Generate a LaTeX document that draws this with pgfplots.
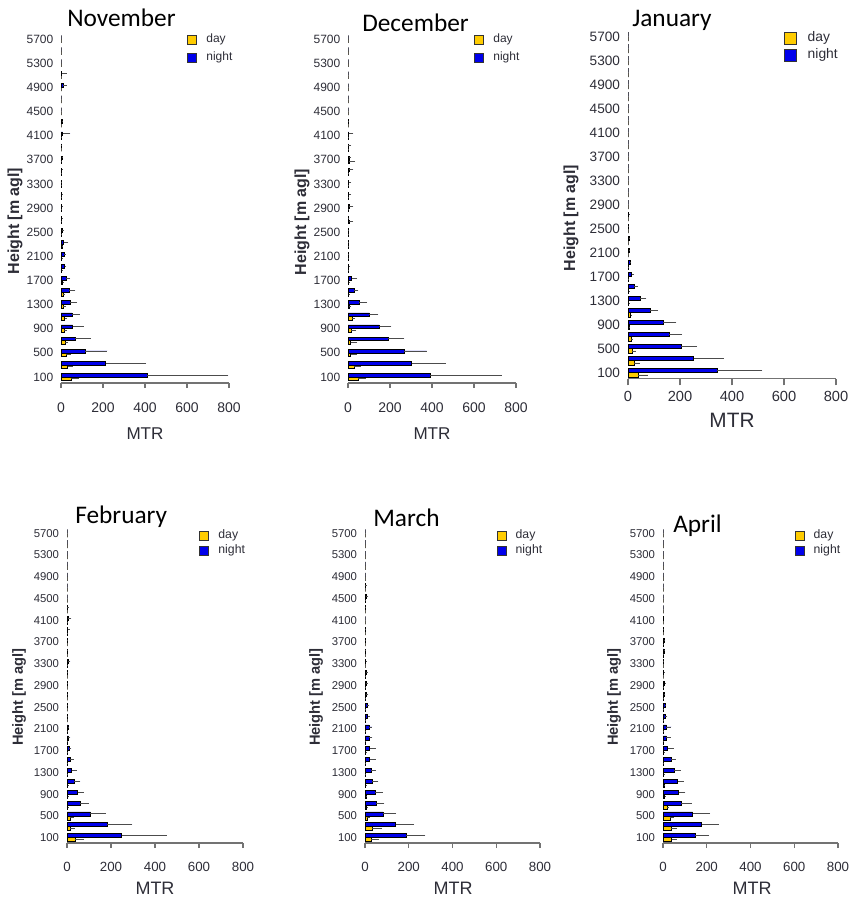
\documentclass[border=0pt]{standalone}
\usepackage{fontspec}
\setmainfont{Liberation Sans}
\newfontfamily\titlefont{Carlito}
\usepackage{pgfplots}
\usepackage{pgfplotstable}
\pgfplotsset{compat=1.18}

\definecolor{dayc}{RGB}{255,204,0}
\definecolor{nightc}{RGB}{0,0,235}
\definecolor{axisgray}{RGB}{115,115,115}
\definecolor{labelc}{RGB}{45,45,55}

% Migration traffic rate per 200 m height bin:
% h = bin centre, d/n = day/night MTR, dhi/nhi = upper end of the error bar
\pgfplotstableread{
h d dhi n nhi
100 50 87 409 797
300 32 55 213 405
500 24 46 115 221
700 19 32 68 142
900 14 27 55 109
1100 18 30 52 90
1300 11 24 44 77
1500 11 20 38 68
1700 8 16 24 44
1900 3 6 17 24
2100 3 6 16 22
2300 5 10 13 35
2500 2 4 5 12
2700 2 4 3 6
2900 2 3 3 6
3100 1 2 3 5
3300 1 2 2 4
3500 1 2 3 5
3700 1 2 4 6
3900 0 0 2 3
4100 1 2 8 45
4300 0 0 4 8
4500 0 0 0 0
4700 0 0 0 0
4900 0 0 11 27
5100 0 0 3 27
5300 0 0 0 0
5500 0 0 0 0
5700 0 0 0 0
}\nov

\pgfplotstableread{
h d dhi n nhi
100 48 84 392 733
300 29 61 303 465
500 13 45 266 375
700 13 45 190 268
900 16 40 148 207
1100 19 35 102 145
1300 6 16 53 91
1500 3 6 29 49
1700 3 6 18 43
1900 2 4 3 10
2100 1 3 2 5
2300 1 3 2 5
2500 1 2 2 5
2700 5 25 2 6
2900 2 5 5 25
3100 2 5 3 15
3300 1 3 3 15
3500 2 4 5 25
3700 5 35 4 15
3900 1 3 2 15
4100 1 2 3 25
4300 0 0 1 2
4500 0 0 0 0
4700 0 0 0 0
4900 0 0 0 0
5100 0 0 0 0
5300 0 0 0 0
5500 0 0 0 0
5700 0 0 0 0
}\dec

\pgfplotstableread{
h d dhi n nhi
100 40 77 342 517
300 23 46 252 369
500 15 32 204 266
700 12 20 159 208
900 5 8 136 186
1100 10 14 84 116
1300 2 4 46 71
1500 2 3 24 38
1700 1 2 14 24
1900 1 2 8 12
2100 0 1 4 6
2300 0 1 5 8
2500 0 0 1 2
2700 0 0 2 3
2900 0 0 0 0
3100 0 0 0 0
3300 0 0 0 0
3500 0 0 0 0
3700 0 0 0 0
3900 0 0 0 0
4100 0 0 0 0
4300 0 0 0 0
4500 0 0 0 0
4700 0 0 0 0
4900 0 0 0 0
5100 0 0 0 0
5300 0 0 0 0
5500 0 0 0 0
5700 0 0 0 0
}\jan

\pgfplotstableread{
h d dhi n nhi
100 36 79 248 453
300 15 36 182 297
500 15 33 106 176
700 3 6 59 100
900 3 6 48 76
1100 3 5 33 61
1300 2 4 21 44
1500 1 3 14 30
1700 1 2 9 20
1900 1 2 6 15
2100 1 2 4 8
2300 0 1 2 4
2500 0 0 1 2
2700 0 0 1 2
2900 0 0 1 2
3100 0 0 1 2
3300 1 2 4 15
3500 0 0 1 2
3700 0 0 1 2
3900 1 3 3 12
4100 2 5 6 20
4300 0 0 2 8
4500 0 0 0 0
4700 0 0 0 0
4900 0 0 0 0
5100 0 0 0 0
5300 0 0 0 0
5500 0 0 0 0
5700 0 0 0 0
}\feb

\pgfplotstableread{
h d dhi n nhi
100 28 66 188 276
300 33 76 140 224
500 10 22 82 142
700 7 12 52 88
900 4 8 46 82
1100 3 6 33 61
1300 2 5 27 49
1500 2 5 22 48
1700 3 6 21 49
1900 2 4 18 34
2100 1 3 18 33
2300 1 3 12 22
2500 1 3 10 20
2700 1 2 6 15
2900 1 2 6 12
3100 1 2 5 12
3300 0 1 3 8
3500 0 1 1 3
3700 0 0 1 2
3900 0 0 1 2
4100 0 0 0 0
4300 0 0 1 2
4500 1 2 6 15
4700 0 1 2 10
4900 0 0 0 0
5100 0 0 0 0
5300 0 0 0 0
5500 0 0 0 0
5700 0 0 0 0
}\mar

\pgfplotstableread{
h d dhi n nhi
100 39 64 148 211
300 36 64 177 255
500 33 52 135 215
700 18 26 82 132
900 8 12 71 102
1100 4 7 67 94
1300 3 6 50 82
1500 2 5 36 59
1700 3 6 21 48
1900 2 4 15 36
2100 2 4 15 38
2300 1 3 10 20
2500 1 2 10 15
2700 1 2 5 10
2900 1 2 8 12
3100 0 1 3 5
3300 0 0 1 2
3500 1 2 4 6
3700 1 2 6 10
3900 0 0 1 2
4100 0 0 1 1
4300 0 0 0 0
4500 0 0 0 0
4700 0 0 0 0
4900 0 0 0 0
5100 0 0 0 0
5300 0 0 0 0
5500 0 0 0 0
5700 0 0 0 0
}\apr

\def\sqh{3.4pt}\def\lgap{7pt}

\pgfplotsset{
  mtrpanel/.style={
    scale only axis, xbar, clip=false,
    xmin=0, xmax=800, ymin=0, ymax=5800,
    xtick={0,200,...,800}, ytick={100,500,...,5700},
    axis x line=bottom, axis y line=left,
    x axis line style={-, draw=axisgray, line width=1pt},
    y axis line style={draw=none},
    xtick style={draw=axisgray, line width=1pt},
    ytick style={draw=none},
    tick align=outside,
    /pgf/number format/assume math mode=true,
    /pgf/number format/1000 sep={},
    ticklabel style={text=labelc},
    legend style={at={(axis description cs:0.752,1.007)}, anchor=north west,
      draw=none, fill=none, inner sep=0pt, outer sep=0pt, row sep=0pt,
      cells={anchor=west}, text=labelc},
  },
  errs/.style={error bars/x dir=plus, error bars/x explicit, error bars/error mark=none,
    error bars/error bar style={draw=black!70, line width=0.7pt}},
  dayplot/.style={errs, fill=dayc, draw=black, line width=0.5pt, bar shift=-#1,
    legend image code/.code={%
      \draw[fill=dayc,draw=black!80,line width=0.5pt] (0pt,-\sqh) rectangle ({2*\sqh},\sqh);
      \path ({2*\sqh+\lgap},0);}},
  nightplot/.style={errs, fill=nightc, draw=black, line width=0.5pt, bar shift=#1,
    legend image code/.code={%
      \draw[fill=nightc,draw=black!80,line width=0.5pt] (0pt,-\sqh) rectangle ({2*\sqh},\sqh);
      \path ({2*\sqh+\lgap},0);}},
  toprow/.style={
    yticklabel style={font=\fontsize{9}{9}\selectfont, xshift=1.5pt},
    xticklabel style={font=\fontsize{10.5}{10.5}\selectfont, yshift=-7.5pt},
    major tick length=3.75pt, bar width=2.8pt,
    legend style={font=\fontsize{9}{9}\selectfont, nodes={inner sep=0pt, text height=9pt, text depth=4.5pt}},
  },
  botrow/.style={
    yticklabel style={font=\fontsize{8.5}{8.5}\selectfont, xshift=1.3pt},
    xticklabel style={font=\fontsize{10}{10}\selectfont, yshift=-6.8pt},
    major tick length=3.75pt, bar width=3pt,
    legend style={yshift=-2.25pt, font=\fontsize{9.2}{9.2}\selectfont, nodes={inner sep=0pt, text height=7.5pt, text depth=3.75pt}},
  },
}

\newcommand\panel[2]{% table, bar shift
  \addplot[dayplot=#2] table[x=d, y=h, x error expr=\thisrow{dhi}-\thisrow{d}] {#1};
  \addlegendentry{day}
  \addplot[nightplot=#2] table[x=n, y=h, x error expr=\thisrow{nhi}-\thisrow{n}] {#1};
  \addlegendentry{night}
}

\begin{document}
\begin{tikzpicture}[x=0.75pt, y=-0.75pt]
\path[use as bounding box] (0,0) rectangle (849,901);

% ---- top row ----
\def\sqh{3.4pt}\def\lgap{7pt}
\begin{axis}[mtrpanel, toprow, at={(45.75pt,-287.25pt)}, anchor=south west, width=126pt, height=262.5pt]
\panel{\nov}{1.4pt}
\end{axis}

\begin{axis}[mtrpanel, toprow, at={(261pt,-287.25pt)}, anchor=south west, width=126pt, height=262.5pt]
\panel{\dec}{1.4pt}
\end{axis}

\def\sqh{4.5pt}\def\lgap{8pt}
\begin{axis}[mtrpanel, at={(471pt,-284.03pt)}, anchor=south west, width=156pt, height=261pt,
  yticklabel style={font=\fontsize{10.2}{10.2}\selectfont, xshift=2.5pt},
  xticklabel style={font=\fontsize{11}{11}\selectfont, yshift=-1pt},
  major tick length=5pt, bar width=3.4pt,
  legend style={yshift=-1.5pt, font=\fontsize{10.4}{10.4}\selectfont, nodes={inner sep=0pt, text height=8.5pt, text depth=4pt}}]
\panel{\jan}{1.7pt}
\end{axis}

% ---- bottom row ----
\def\sqh{3.4pt}\def\lgap{7pt}
\begin{axis}[mtrpanel, botrow, at={(50.25pt,-632.33pt)}, anchor=south west, width=132pt, height=236.4pt]
\panel{\feb}{1.5pt}
\end{axis}

\begin{axis}[mtrpanel, botrow, at={(273.75pt,-632.33pt)}, anchor=south west, width=131.25pt, height=236.4pt]
\panel{\mar}{1.5pt}
\end{axis}

\begin{axis}[mtrpanel, botrow, at={(497.25pt,-632.33pt)}, anchor=south west, width=131.25pt, height=236.4pt]
\panel{\apr}{1.5pt}
\end{axis}

% ---- panel titles ----
\begin{scope}[every node/.style={anchor=base west, inner sep=0pt, font=\titlefont\fontsize{19}{19}\selectfont}]
\node at (67,26.7) {November};
\node at (362,31.7) {December};
\node at (632,26) {January};
\node at (75,523) {February};
\node at (373,526) {March};
\node at (673,532.7) {April};
\end{scope}

% ---- axis titles ----
\begin{scope}[every node/.style={text=labelc, inner sep=0pt}]
\node[rotate=90, font=\bfseries\fontsize{12}{12}\selectfont] at (15,221) {Height [m agl]};
\node[rotate=90, font=\bfseries\fontsize{12}{12}\selectfont] at (302,222) {Height [m agl]};
\node[rotate=90, font=\bfseries\fontsize{12}{12}\selectfont] at (571,218) {Height [m agl]};
\node[rotate=90, font=\bfseries\fontsize{11}{11}\selectfont] at (19,697) {Height [m agl]};
\node[rotate=90, font=\bfseries\fontsize{11}{11}\selectfont] at (316,697) {Height [m agl]};
\node[rotate=90, font=\bfseries\fontsize{11}{11}\selectfont] at (614,697) {Height [m agl]};
\node[font=\fontsize{12.8}{12.8}\selectfont] at (145,434) {MTR};
\node[font=\fontsize{12.8}{12.8}\selectfont] at (432,434) {MTR};
\node[font=\fontsize{15.6}{15.6}\selectfont] at (732,420) {MTR};
\node[font=\fontsize{13.5}{13.5}\selectfont] at (155,888) {MTR};
\node[font=\fontsize{13.5}{13.5}\selectfont] at (453,888) {MTR};
\node[font=\fontsize{13.5}{13.5}\selectfont] at (752,888) {MTR};
\end{scope}
\end{tikzpicture}
\end{document}
